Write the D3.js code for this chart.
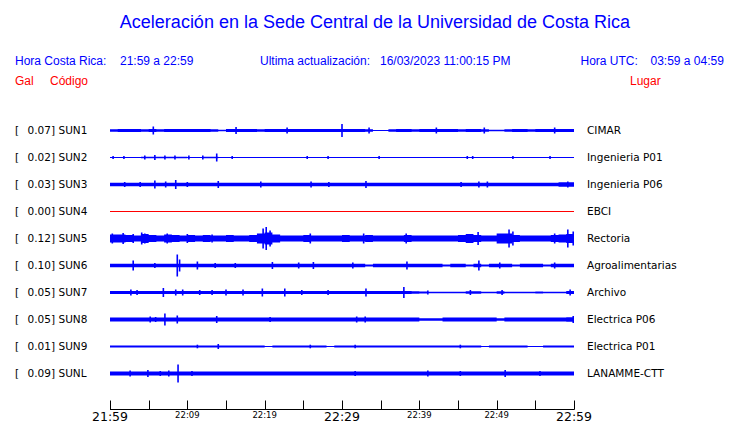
<!DOCTYPE html>
<html>
<head>
<meta charset="utf-8">
<script src="https://cdn.jsdelivr.net/npm/d3@7"></script>
<style>
  html, body { margin: 0; padding: 0; background: #fff; }
  svg { display: block; }
</style>
</head>
<body>
<svg id="chart" width="740" height="423"></svg>
<script>
// ---------------- DATA ----------------
const titleText = "Aceleración en la Sede Central de la Universidad de Costa Rica";
const horaCR = "21:59 a 22:59";
const horaUTC = "03:59 a 04:59";
const updated = "16/03/2023 11:00:15 PM";

const stations = ["SUN1","SUN2","SUN3","SUN4","SUN5","SUN6","SUN7","SUN8","SUN9","SUNL"];
const maxGal   = ["0.07","0.02","0.03","0.00","0.12","0.10","0.05","0.05","0.01","0.09"];
const places   = ["CIMAR","Ingenieria P01","Ingenieria P06","EBCI","Rectoria","Agroalimentarias","Archivo","Electrica P06","Electrica P01","LANAMME-CTT"];
const traceColors = ["blue","blue","blue","red","blue","blue","blue","blue","blue","blue"];

// time axis (minutes after 21:59)
const tickMinutes = [0,5,10,15,20,25,30,35,40,45,50,55,60];
const tickLabels  = {0:"21:59",10:"22:09",20:"22:19",30:"22:29",40:"22:39",50:"22:49",60:"22:59"};
const bigTicks    = [0,30,60];

// envelope amplitude per minute (relative units)
const env_SUN1 = [1.2,1.5,1.5,1.5,1.2,1.5,1.2,1.5,1.5,1.5, 1.5,1.5,1.5,1.2,0.8,1.5,1.5,1.5,1.5,1.2, 1.5,1.5,1.5,1.5,1.5,1.5,1.5,1.5,1.5,1.5, 1.5,1.5,1.5,1.2,0.5,0.5,1.2,1.5,1.5,1.2, 1.5,1.5,1.5,1.5,1.5,1.2,1.5,1.5,1.2,0.8, 0.8,1.2,1.5,1.5,1.2,1.5,1.5,1.5,1.5,1.5];
const env_SUN2 = [0.5,0.5,0.5,0.5,0.8,0.8,0.8,0.8,0.8,0.8, 0.5,0.5,0.8,0.8,0.5,0.5,0.5,0.5,0.5,0.5, 0.5,0.5,0.5,0.5,0.5,0.5,0.5,0.5,0.5,0.5, 0.5,0.5,0.5,0.5,0.5,0.5,0.5,0.5,0.5,0.5, 0.5,0.5,0.5,0.5,0.5,0.5,0.5,0.5,0.5,0.5, 0.5,0.5,0.5,0.5,0.5,0.5,0.5,0.5,0.5,0.5];
const env_SUN3 = [1.7,1.7,1.7,1.7,1.7,1.7,1.7,1.7,1.7,1.7, 1.7,1.7,1.7,1.7,1.7,1.7,1.7,1.7,1.7,1.7, 1.7,1.7,1.7,1.7,1.7,1.7,1.7,1.7,1.7,1.7, 1.7,1.7,1.7,1.7,1.7,1.7,1.7,1.7,1.7,1.7, 1.7,1.7,1.7,1.7,1.7,1.7,1.7,1.7,1.7,1.7, 1.7,1.7,1.7,1.7,1.7,1.7,1.7,1.7,2.2,2.2];
const env_SUN4 = [0,0,0,0,0,0,0,0,0,0, 0,0,0,0,0,0,0,0,0,0, 0,0,0,0,0,0,0,0,0,0, 0,0,0,0,0,0,0,0,0,0, 0,0,0,0,0,0,0,0,0,0, 0,0,0,0,0,0,0,0,0,0];
const env_SUN5 = [4,4,3.5,3,4.5,3.5,3,4,3.5,3, 3.5,3,3.5,3,3,3.5,3,3,3.5,5, 6,4,3,3,3,3.5,3,3,3,3, 3.5,3,3,3.5,3,3,3,3,3.5,3, 3,3,3,3,3,3.5,4.5,3.5,3,3, 5,5,3.5,3,3,3,3,3.5,4,4.5];
const env_SUN6 = [1.7,1.7,1.7,1.7,1.7,1.7,1.7,1.7,1.7,1.7, 1.7,1.7,1.7,1.7,1.7,1.7,1.7,1.7,1.7,1.7, 1.7,1.7,1.7,1.7,1.7,1.7,1.7,1.7,1.7,1.7, 1.7,1.7,1.7,1.0,1.7,1.7,1.7,1.7,1.7,1.7, 1.7,1.7,1.7,1.0,1.7,1.7,1.0,1.7,1.0,1.7, 1.7,1.7,1.0,1.7,1.7,1.7,1.0,1.7,1.7,1.7];
const env_SUN7 = [1.5,1.5,1.5,1.5,1.5,1.5,1.5,1.5,1.5,1.5, 1.5,1.5,1.5,1.5,1.5,1.5,1.5,1.5,1.5,1.5, 1.5,1.5,1.5,1.5,1.5,1.5,1.5,1.5,1.5,1.5, 1.5,1.5,1.5,1.5,1.5,1.5,1.5,1.5,1.5,1.2, 1.0,0.8,0.8,0.8,0.8,0.8,1.2,1.2,0.8,0.8, 1.2,0.8,0.8,0.8,0.8,1.0,0.8,0.8,0.8,1.5];
const env_SUN8 = [2,2,2,2,2,2,2,2,2,2, 2,2,2,2,2,2,2,2,2,2, 2,2,2,2,2,2,2,2,2,2, 2,2,2,2,2,2,2,2,2,2, 1.3,1.3,1.3,2,2,2,2,2,2,2, 1.3,2,2,2,2,2,2,2,2,2.3];
const env_SUN9 = [1.1,1.1,1.1,1.1,1.1,1.1,1.1,1.1,1.1,1.1, 1.1,1.1,1.1,1.1,1.1,1.1,1.1,1.1,1.1,1.1, 0.5,1.1,1.1,1.1,1.1,1.1,1.1,1.1,0.5,1.1, 1.1,1.1,1.1,1.1,1.1,1.1,1.1,1.1,1.1,1.1, 1.1,1.1,1.1,1.1,1.1,1.1,1.1,1.1,0.5,1.1, 1.1,1.1,1.1,1.1,0.5,0.5,1.1,1.1,1.1,1.1];
const env_SUNL = [2,2,2,2,2,2,2,2,2,2, 2,2,2,2,2,2,2,2,2,2, 2,2,2,2,2,2,2,2,2,2, 2,2,2,2,2,2,2,2,2,2, 2,2,2,2,2,2,2,2,2,2, 2,2,2,2,2,2,2,2,2,2];

// isolated peaks: [minute, amplitude]
const peaks_SUN1 = [[5.6,4],[16.3,3.5],[22.9,3],[30.0,6.5],[33.5,3],[42.2,3],[48.4,3],[57.5,3]];
const peaks_SUN2 = [[0.4,1.5],[1.8,1.5],[4.5,2],[5.8,2.5],[7.1,2],[8.4,2],[10.2,2],[12.0,2],[13.8,4],[15.8,1.5],[25.5,1.5],[28.2,1.5],[34.8,1.5],[46.2,1.5],[46.9,1.5],[52.1,1.5],[56.9,1.5]];
const peaks_SUN3 = [[1.9,2.5],[3.9,2.5],[5.8,4],[7.2,3],[8.5,4.5],[10.0,2.5],[14.0,3.5],[19.5,3],[26.0,3],[28.3,2.5],[33.1,3.5],[45.4,2.5],[47.7,3],[48.8,3],[59.2,3]];
const peaks_SUN4 = [];
const peaks_SUN5 = [[0.3,5],[1.7,5.5],[3.0,4.5],[4.1,6],[4.5,5],[7.4,5],[10.0,4.5],[13.2,4],[19.8,10],[20.2,11.5],[20.7,8],[25.9,5],[32.8,5],[38.3,5],[47.6,6.5],[51.6,9],[52.1,7],[57.5,5],[59.2,9],[59.9,7]];
const peaks_SUN6 = [[3.0,5],[5.8,2.5],[8.7,11],[9.0,6],[11.3,4],[13.6,2.5],[16.2,2.5],[21.0,3.5],[24.4,3],[26.3,3.5],[31.4,3],[38.4,4],[47.7,5],[50.4,3],[57.5,3]];
const peaks_SUN7 = [[2.7,3],[3.5,2.5],[6.9,4.5],[8.5,3],[9.4,3],[11.6,2.5],[13.2,2.5],[15.0,3],[17.2,3],[19.7,4],[22.6,4],[24.8,2.5],[28.2,2.5],[33.1,4],[38.0,5.5],[41.1,2],[46.6,2.5],[50.7,2.5],[59.5,3]];
const peaks_SUN8 = [[5.2,3],[5.9,2.5],[7.1,6],[8.7,4],[13.8,3.5],[20.7,2.5],[31.9,3],[33.0,3],[59.9,3.5]];
const peaks_SUN9 = [[11.3,1.8],[14.0,2.5],[25.9,1.8],[31.7,1.8],[45.3,1.8]];
const peaks_SUNL = [[2.6,3],[4.9,3.5],[6.5,2.5],[7.6,3],[8.8,9],[10.6,2.5],[31.7,2.5],[41.1,3],[45.3,2.5],[51.1,3.5],[55.6,2.5]];

const envelopes = [env_SUN1,env_SUN2,env_SUN3,env_SUN4,env_SUN5,env_SUN6,env_SUN7,env_SUN8,env_SUN9,env_SUNL];
const peaks = [peaks_SUN1,peaks_SUN2,peaks_SUN3,peaks_SUN4,peaks_SUN5,peaks_SUN6,peaks_SUN7,peaks_SUN8,peaks_SUN9,peaks_SUNL];

// ---------------- DRAW ----------------
const svg = d3.select("#chart");
const BLUE = "#0000ff", RED = "#ff0000";
const sans = "'Liberation Sans', Arial, Helvetica, sans-serif";
const dejavu = "'DejaVu Sans', sans-serif";

const x = d3.scaleLinear().domain([0, 60]).range([110, 574]);
const row = d3.scaleBand().domain(stations).range([116.5, 386.5]);
const amp = d3.scaleLinear().domain([0, 13]).range([0, 13]);

// Title
svg.append("text").attr("x", 375).attr("y", 28).attr("text-anchor", "middle")
  .attr("font-family", sans).attr("font-size", 18).attr("fill", BLUE).text(titleText);

// header
const hdr = [
  {t:"Hora Costa Rica:", x:15, y:65, c:BLUE},
  {t:horaCR, x:120, y:65, c:BLUE},
  {t:"Ultima actualización:", x:260, y:65, c:BLUE},
  {t:updated, x:380, y:65, c:BLUE},
  {t:"Hora UTC:", x:580.5, y:65, c:BLUE},
  {t:horaUTC, x:650.5, y:65, c:BLUE},
  {t:"Gal", x:15, y:85, c:RED},
  {t:"Código", x:50, y:85, c:RED},
  {t:"Lugar", x:630, y:85, c:RED}
];
svg.selectAll("text.hdr").data(hdr).join("text").attr("class","hdr")
  .attr("x", d => d.x).attr("y", d => d.y).attr("fill", d => d.c)
  .attr("font-family", sans).attr("font-size", 12).text(d => d.t);

// rows
const rows = svg.selectAll("g.row").data(stations).join("g").attr("class","row")
  .attr("transform", d => `translate(0,${row(d) + row.bandwidth()/2})`);

rows.append("text").attr("x", 15).attr("y", 4).attr("font-family", dejavu).attr("font-size", 10.5).attr("fill", "#000").text("[");
rows.append("text").attr("x", 55).attr("y", 4).attr("text-anchor", "end").attr("font-family", dejavu).attr("font-size", 10.5).attr("fill", "#000").text((d,i) => maxGal[i] + "]");
rows.append("text").attr("x", 58.5).attr("y", 4).attr("font-family", dejavu).attr("font-size", 10.5).attr("fill", "#000").text(d => d);
rows.append("text").attr("x", 587).attr("y", 4).attr("font-family", dejavu).attr("font-size", 10.5).attr("fill", "#000").text((d,i) => places[i]);

const area = d3.area().curve(d3.curveStepAfter)
  .x(d => x(d.m)).y0(d => amp(d.a)).y1(d => -amp(d.a));

rows.each(function(d, i) {
  const g = d3.select(this);
  const col = traceColors[i] === "red" ? RED : BLUE;
  const pts = envelopes[i].map((a, m) => ({m, a}));
  pts.push({m: 60, a: envelopes[i][59]});
  // center line
  g.append("line").attr("x1", x(0)).attr("x2", x(60)).attr("y1", 0.5).attr("y2", 0.5)
    .attr("stroke", col).attr("stroke-width", 1);
  g.append("path").attr("d", area(pts)).attr("fill", col).attr("transform","translate(0,0.5)");
  g.selectAll("line.pk").data(peaks[i]).join("line").attr("class","pk")
    .attr("x1", p => x(p[0])).attr("x2", p => x(p[0]))
    .attr("y1", p => 0.5 - amp(p[1])).attr("y2", p => 0.5 + amp(p[1]))
    .attr("stroke", col).attr("stroke-width", 1.6);
});

// time axis
const axisG = svg.append("g").attr("transform", "translate(0,409.5)");
axisG.append("line").attr("x1", x(0)).attr("x2", x(60) + 0.5).attr("y1", 0).attr("y2", 0)
  .attr("stroke", "#000").attr("stroke-width", 1);
axisG.selectAll("line.tk").data(tickMinutes).join("line").attr("class","tk")
  .attr("x1", m => Math.round(x(m)) + 0.5).attr("x2", m => Math.round(x(m)) + 0.5)
  .attr("y1", 0).attr("y2", -9).attr("stroke", "#000").attr("stroke-width", 1);
axisG.selectAll("text.tl").data(tickMinutes.filter(m => tickLabels[m])).join("text").attr("class","tl")
  .attr("x", m => x(m)).attr("text-anchor", "middle")
  .attr("y", m => bigTicks.includes(m) ? 11.5 : 8.5)
  .attr("font-family", dejavu)
  .attr("font-size", m => bigTicks.includes(m) ? 12.5 : 8.5)
  .attr("fill", "#000")
  .text(m => tickLabels[m]);
</script>
</body>
</html>
